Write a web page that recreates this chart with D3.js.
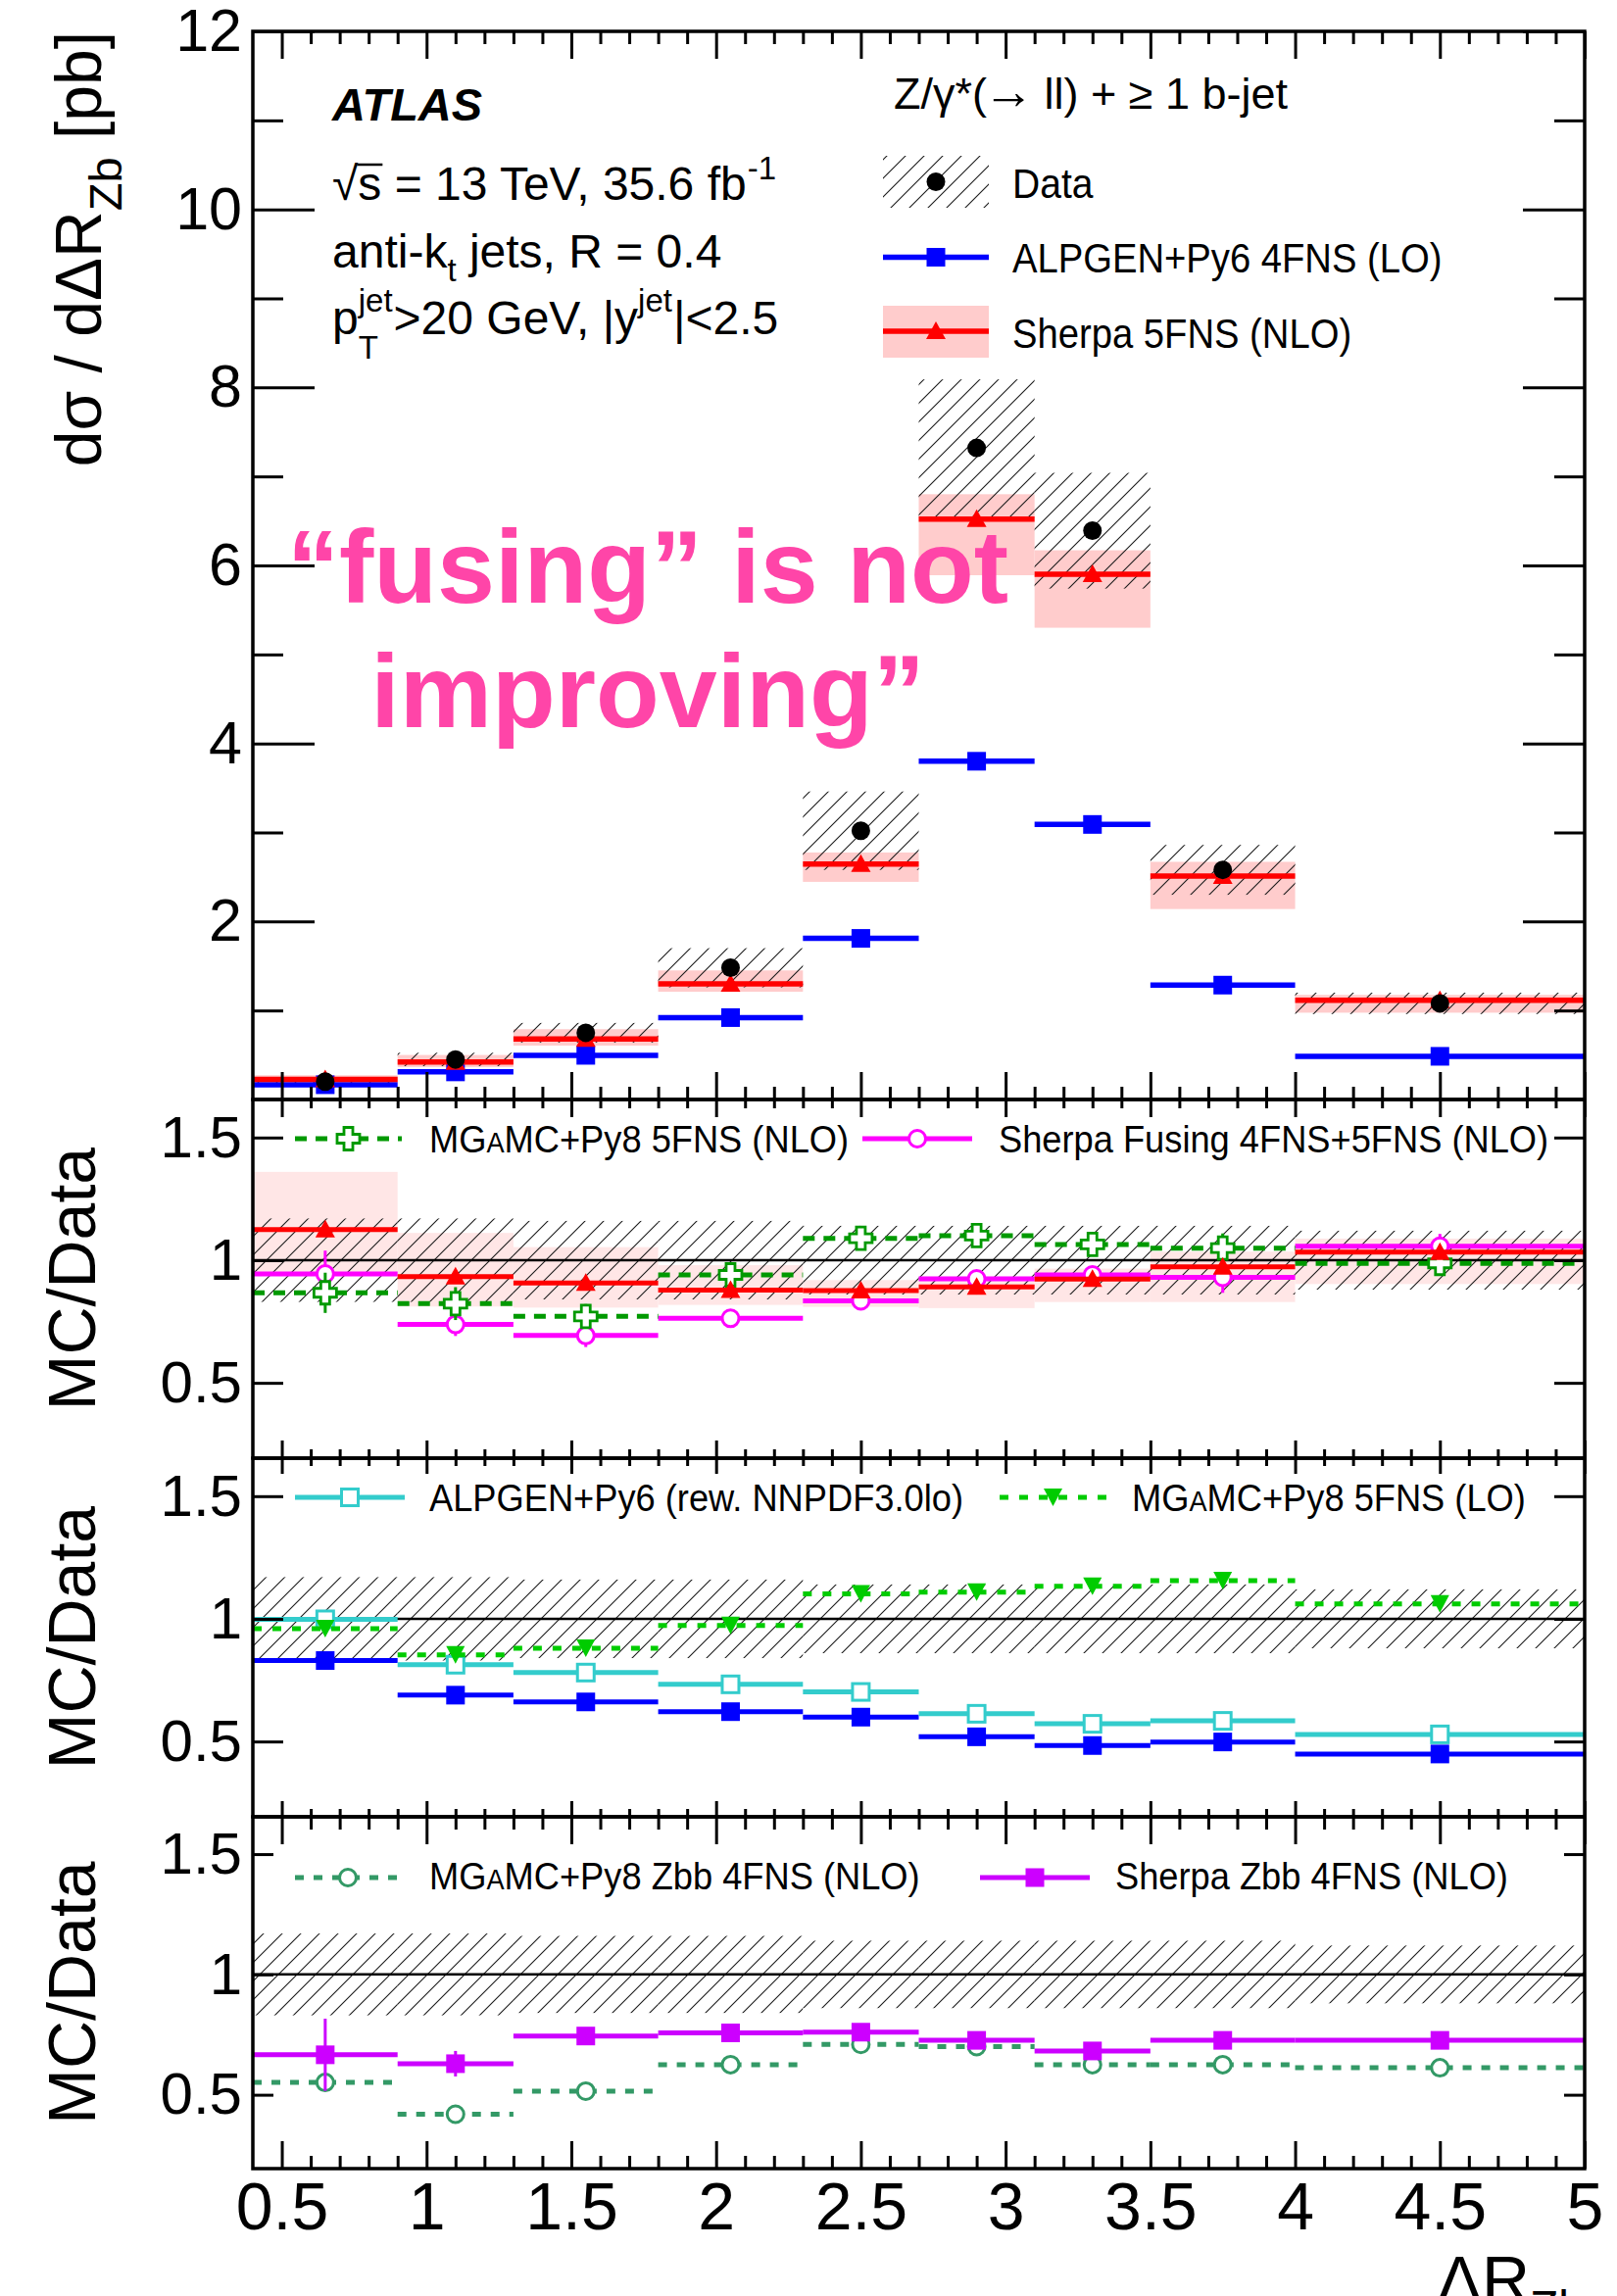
<!DOCTYPE html>
<html>
<head>
<meta charset="utf-8">
<script src="https://cdn.jsdelivr.net/npm/d3@7"></script>
<style>
  html, body { margin: 0; padding: 0; background: #fff; }
  svg { display: block; }
</style>
</head>
<body>
<svg id="chart" width="1650" height="2343"></svg>
<script>
// ΔR_Zb binning
const binEdges   = [0.4, 0.9, 1.3, 1.8, 2.3, 2.7, 3.1, 3.5, 4.0, 5.0];
const binCenters = [0.65, 1.1, 1.55, 2.05, 2.5, 2.9, 3.3, 3.75, 4.5];

// Differential cross section [pb]
const dataXsec     = [0.20, 0.45, 0.75, 1.48, 3.02, 7.32, 6.39, 2.58, 1.08];
const dataXsecErr  = [0.04, 0.075, 0.11, 0.22, 0.44, 0.77, 0.65, 0.28, 0.12];
const alpgen4FNS   = [0.166, 0.31, 0.496, 0.92, 1.81, 3.80, 3.09, 1.285, 0.485];
const sherpa5FNS   = [0.225, 0.42, 0.68, 1.30, 2.645, 6.52, 5.90, 2.51, 1.115];
const sherpa5FNSUp = [0.047, 0.08, 0.11, 0.15, 0.13, 0.28, 0.27, 0.16, 0.06];
const sherpa5FNSDn = [0.035, 0.055, 0.075, 0.09, 0.20, 0.63, 0.60, 0.37, 0.14];

// Relative data uncertainty drawn around 1 in the ratio panels
const ratioBandUp = [0.17, 0.17, 0.16, 0.16, 0.14, 0.14, 0.14, 0.14, 0.12];
const ratioBandDn = [0.17, 0.17, 0.16, 0.16, 0.14, 0.14, 0.14, 0.14, 0.12];

// MC / Data ratios
const mgamc5FNSNLO    = [0.867, 0.823, 0.771, 0.94, 1.089, 1.10, 1.064, 1.049, 0.987];
const mgamc5FNSNLOErr = [0.082, 0.067, 0.05, 0.04, 0.04, 0.04, 0.04, 0.06, 0.05];
const sherpaFusing    = [0.944, 0.738, 0.693, 0.763, 0.834, 0.924, 0.94, 0.93, 1.057];
const sherpaFusingErr = [0.095, 0.047, 0.047, 0.03, 0.03, 0.035, 0.035, 0.063, 0.05];
const alpgenRew       = [0.998, 0.813, 0.781, 0.733, 0.702, 0.613, 0.572, 0.584, 0.529];
const mgamc5FNSLO     = [0.96, 0.853, 0.88, 0.973, 1.102, 1.109, 1.133, 1.156, 1.061];
const mgamcZbb        = [0.551, 0.419, 0.515, 0.625, 0.709, 0.70, 0.625, 0.625, 0.612];
const sherpaZbb       = [0.666, 0.629, 0.744, 0.757, 0.76, 0.726, 0.682, 0.726, 0.726];
const sherpaZbbErr    = [0.15, 0.053, 0.03, 0.03, 0.03, 0.03, 0.03, 0.03, 0.03];

// Axis ticks
const xTickLabels = [0.5, 1, 1.5, 2, 2.5, 3, 3.5, 4, 4.5, 5];
const mainYTicks  = [2, 4, 6, 8, 10, 12];
const mainYMinor  = [1, 3, 5, 7, 9, 11];
const ratioYTicks = [0.5, 1, 1.5];

const FONT = "'Liberation Sans', Arial, Helvetica, sans-serif";
const bins = d3.range(binCenters.length);
const ratioOf = (mc) => mc.map((v, i) => v / dataXsec[i]);

const svg = d3.select("#chart");
const defs = svg.append("defs");

// 45-degree hatching for the data uncertainty
const hatch = defs.append("pattern")
  .attr("id", "hatch").attr("patternUnits", "userSpaceOnUse")
  .attr("width", 19).attr("height", 19);
hatch.append("path")
  .attr("d", "M-2,2 L2,-2 M0,19 L19,0 M17,21 L21,17")
  .attr("stroke", "#1a1a1a").attr("stroke-width", 1.1).attr("fill", "none");

// Geometry
const xL = 258, xR = 1617;
const x = d3.scaleLinear().domain([0.4, 5.0]).range([xL, xR]);
const mainTop = 32, mainBottom = 1122;
const yMain = d3.scaleLinear().domain([0, 12]).range([mainBottom, mainTop]);

const ratioPanels = [
  { top: 1122, bottom: 1488, yTick: 31, xMajor: 18, xMinor: 9 },
  { top: 1488, bottom: 1854, yTick: 31, xMajor: 16, xMinor: 8 },
  { top: 1854, bottom: 2213, yTick: 21, xMajor: 28, xMinor: 13 }
];
ratioPanels.forEach(p => {
  p.y = d3.scaleLinear().domain([0.193, 1.655]).range([p.bottom, p.top]);
});

function clip(id, top, bottom) {
  defs.append("clipPath").attr("id", id)
    .append("rect").attr("x", xL).attr("y", top).attr("width", xR - xL).attr("height", bottom - top);
}
clip("clip-main", mainTop, mainBottom);
ratioPanels.forEach((p, k) => clip("clip-r" + k, p.top, p.bottom));

// Marker shapes
function drawMarker(g, type, cx, cy, color) {
  switch (type) {
    case "dot":
      g.append("circle").attr("cx", cx).attr("cy", cy).attr("r", 9.5).attr("fill", "#000");
      break;
    case "square":
      g.append("rect").attr("x", cx - 9.5).attr("y", cy - 9.5).attr("width", 19).attr("height", 19).attr("fill", color);
      break;
    case "openSquare":
      g.append("rect").attr("x", cx - 8.5).attr("y", cy - 8.5).attr("width", 17).attr("height", 17)
        .attr("fill", "#fff").attr("stroke", color).attr("stroke-width", 3);
      break;
    case "triUp":
      g.append("path").attr("d", `M${cx},${cy - 10}L${cx + 10},${cy + 8}L${cx - 10},${cy + 8}Z`).attr("fill", color);
      break;
    case "triDown":
      g.append("path").attr("d", `M${cx - 9.5},${cy - 9}L${cx + 9.5},${cy - 9}L${cx},${cy + 9}Z`).attr("fill", color);
      break;
    case "openCircle":
      g.append("circle").attr("cx", cx).attr("cy", cy).attr("r", 8.5)
        .attr("fill", "#fff").attr("stroke", color).attr("stroke-width", 3);
      break;
    case "openCross": {
      const a = 4.5, h = 11.5;
      const pts = [[-a,-h],[a,-h],[a,-a],[h,-a],[h,a],[a,a],[a,h],[-a,h],[-a,a],[-h,a],[-h,-a],[-a,-a]];
      g.append("path").attr("d", "M" + pts.map(p => `${cx + p[0]},${cy + p[1]}`).join("L") + "Z")
        .attr("fill", "#fff").attr("stroke", color).attr("stroke-width", 2.8);
      break;
    }
  }
}

// Histogram-style series: a flat segment per bin, optional vertical error, marker at the bin centre
function drawSeries(g, yScale, s) {
  const sg = g.append("g");
  sg.selectAll("line.h").data(bins).join("line")
    .attr("x1", i => x(binEdges[i])).attr("x2", i => x(binEdges[i + 1]))
    .attr("y1", i => yScale(s.values[i])).attr("y2", i => yScale(s.values[i]))
    .attr("stroke", s.color).attr("stroke-width", s.width || 5)
    .attr("stroke-dasharray", s.dash || null);
  if (s.err) {
    sg.selectAll("line.v").data(bins).join("line")
      .attr("x1", i => x(binCenters[i])).attr("x2", i => x(binCenters[i]))
      .attr("y1", i => yScale(s.values[i] - s.err[i])).attr("y2", i => yScale(s.values[i] + s.err[i]))
      .attr("stroke", s.color).attr("stroke-width", 3);
  }
  bins.forEach(i => drawMarker(sg, s.marker, x(binCenters[i]), yScale(s.values[i]), s.color));
}

function bandRects(g, yScale, lo, hi, fill) {
  g.append("g").selectAll("rect").data(bins).join("rect")
    .attr("x", i => x(binEdges[i]))
    .attr("width", i => x(binEdges[i + 1]) - x(binEdges[i]))
    .attr("y", i => yScale(hi[i]))
    .attr("height", i => yScale(lo[i]) - yScale(hi[i]))
    .attr("fill", fill);
}

// ---------------- main panel ----------------
const gMain = svg.append("g").attr("clip-path", "url(#clip-main)");
bandRects(gMain, yMain,
  sherpa5FNS.map((v, i) => v - sherpa5FNSDn[i]),
  sherpa5FNS.map((v, i) => v + sherpa5FNSUp[i]), "#ffcccc");
bandRects(gMain, yMain,
  dataXsec.map((v, i) => v - dataXsecErr[i]),
  dataXsec.map((v, i) => v + dataXsecErr[i]), "url(#hatch)");
drawSeries(gMain, yMain, { values: alpgen4FNS, color: "#0000ff", marker: "square", width: 5.5 });
drawSeries(gMain, yMain, { values: sherpa5FNS, color: "#ff0000", marker: "triUp", width: 5.5 });
bins.forEach(i => drawMarker(gMain, "dot", x(binCenters[i]), yMain(dataXsec[i])));

// ---------------- ratio panels ----------------
const ratioSeries = [
  [
    { values: sherpaFusing, err: sherpaFusingErr, color: "#ff00ff", marker: "openCircle" },
    { values: mgamc5FNSNLO, err: mgamc5FNSNLOErr, color: "#009900", marker: "openCross", dash: "12,9" },
    { values: ratioOf(sherpa5FNS), color: "#ff0000", marker: "triUp" }
  ],
  [
    { values: ratioOf(alpgen4FNS), color: "#0000ff", marker: "square" },
    { values: alpgenRew, color: "#33cccc", marker: "openSquare" },
    { values: mgamc5FNSLO, color: "#00cc00", marker: "triDown", dash: "9,11" }
  ],
  [
    { values: mgamcZbb, color: "#339966", marker: "openCircle", dash: "9,10" },
    { values: sherpaZbb, err: sherpaZbbErr, color: "#cc00ff", marker: "square" }
  ]
];

ratioPanels.forEach((p, k) => {
  const g = svg.append("g").attr("clip-path", `url(#clip-r${k})`);
  if (k === 0) {
    bandRects(g, p.y,
      sherpa5FNS.map((v, i) => (v - sherpa5FNSDn[i]) / dataXsec[i]),
      sherpa5FNS.map((v, i) => (v + sherpa5FNSUp[i]) / dataXsec[i]), "#ffe6e6");
  }
  bandRects(g, p.y, ratioBandDn.map(d => 1 - d), ratioBandUp.map(u => 1 + u), "url(#hatch)");
  g.append("line").attr("x1", xL).attr("x2", xR).attr("y1", p.y(1)).attr("y2", p.y(1))
    .attr("stroke", "#000").attr("stroke-width", 2.5);
  ratioSeries[k].forEach(s => drawSeries(g, p.y, s));
});

// ---------------- frames and ticks ----------------
const fmt = d3.format("~g");
function styleAxis(g, size) {
  g.attr("font-family", FONT).attr("font-size", size);
  g.select(".domain").remove();
  g.selectAll(".tick line").attr("stroke", "#000").attr("stroke-width", 3);
  g.selectAll(".tick text").attr("fill", "#000");
}
const xMinorTicks = d3.range(5, 50).map(i => i / 10).filter(v => Math.abs(v * 2 - Math.round(v * 2)) > 1e-6);

function frameTicks(top, bottom, yScale, yMaj, yMinorVals, yMajLen, yMinLen, xMajLen, xMinLen, yLabelSize, xLabels) {
  // y ticks, left and right
  svg.append("g").attr("transform", `translate(${xL},0)`)
    .call(d3.axisLeft(yScale).tickValues(yMaj).tickSize(-yMajLen).tickPadding(11).tickFormat(fmt))
    .call(styleAxis, yLabelSize);
  svg.append("g").attr("transform", `translate(${xR},0)`)
    .call(d3.axisRight(yScale).tickValues(yMaj).tickSize(-yMajLen).tickFormat(""))
    .call(styleAxis, 10);
  if (yMinorVals) {
    svg.append("g").attr("transform", `translate(${xL},0)`)
      .call(d3.axisLeft(yScale).tickValues(yMinorVals).tickSize(-yMinLen).tickFormat(""))
      .call(styleAxis, 10);
    svg.append("g").attr("transform", `translate(${xR},0)`)
      .call(d3.axisRight(yScale).tickValues(yMinorVals).tickSize(-yMinLen).tickFormat(""))
      .call(styleAxis, 10);
  }
  // x ticks, top and bottom
  svg.append("g").attr("transform", `translate(0,${top})`)
    .call(d3.axisTop(x).tickValues(xTickLabels).tickSize(-xMajLen).tickFormat(""))
    .call(styleAxis, 10);
  svg.append("g").attr("transform", `translate(0,${top})`)
    .call(d3.axisTop(x).tickValues(xMinorTicks).tickSize(-xMinLen).tickFormat(""))
    .call(styleAxis, 10);
  const bottomAxis = d3.axisBottom(x).tickValues(xTickLabels).tickSize(-xMajLen);
  if (xLabels) bottomAxis.tickPadding(14).tickFormat(fmt); else bottomAxis.tickFormat("");
  svg.append("g").attr("transform", `translate(0,${bottom})`)
    .call(bottomAxis).call(styleAxis, 68);
  svg.append("g").attr("transform", `translate(0,${bottom})`)
    .call(d3.axisBottom(x).tickValues(xMinorTicks).tickSize(-xMinLen).tickFormat(""))
    .call(styleAxis, 10);
  svg.append("rect").attr("x", xL).attr("y", top).attr("width", xR - xL).attr("height", bottom - top)
    .attr("fill", "none").attr("stroke", "#000").attr("stroke-width", 3.5);
}

frameTicks(mainTop, mainBottom, yMain, mainYTicks, mainYMinor, 63, 31, 28, 13, 61, false);
ratioPanels.forEach((p, k) =>
  frameTicks(p.top, p.bottom, p.y, ratioYTicks, null, p.yTick, 0, p.xMajor, p.xMinor, 60, k === 2));

// ---------------- axis titles ----------------
const yTitle = svg.append("text").attr("transform", `translate(103,${mainTop}) rotate(-90)`)
  .attr("text-anchor", "end").attr("font-family", FONT).attr("font-size", 66);
yTitle.append("tspan").text("dσ / dΔR");
yTitle.append("tspan").attr("font-size", 47).attr("dy", 21).text("Zb");
yTitle.append("tspan").attr("dy", -21).text("\u00a0[pb]");

ratioPanels.forEach(p => {
  svg.append("text").attr("transform", `translate(97,${(p.top + p.bottom) / 2}) rotate(-90)`)
    .attr("text-anchor", "middle").attr("font-family", FONT).attr("font-size", 68).text("MC/Data");
});

const xTitle = svg.append("text").attr("x", xR).attr("y", 2350)
  .attr("text-anchor", "end").attr("font-family", FONT).attr("font-size", 68);
xTitle.append("tspan").text("ΔR");
xTitle.append("tspan").attr("font-size", 48).attr("dy", 21).text("Zb");

// ---------------- labels in the main panel ----------------
const meas = svg.append("text").attr("font-family", FONT).attr("visibility", "hidden");
function textWidth(str, size) {
  meas.attr("font-size", size).text(str);
  return meas.node().getComputedTextLength();
}
function plain(xp, yp, size, str, extra) {
  const t = svg.append("text").attr("x", xp).attr("y", yp).attr("font-family", FONT).attr("font-size", size).text(str);
  if (extra) extra(t);
  return t;
}

const annX = 339, annSize = 48, scriptSize = 33;
plain(annX, 123, 47, "ATLAS", t => t.attr("font-weight", "bold").attr("font-style", "italic"));

// √s = 13 TeV, 35.6 fb^-1
const sLine = plain(annX, 204, annSize, "√s = 13 TeV, 35.6 fb");
{
  const node = sLine.node();
  const s0 = node.getStartPositionOfChar(1).x, s1 = node.getEndPositionOfChar(1).x;
  svg.append("line").attr("x1", s0 - 1).attr("x2", s1 + 1).attr("y1", 204 - 36).attr("y2", 204 - 36)
    .attr("stroke", "#000").attr("stroke-width", 2.5);
  const w = node.getComputedTextLength();
  plain(annX + w + 1, 204 - 21, scriptSize, "-1");
}

// anti-k_t jets, R = 0.4
{
  const w1 = textWidth("anti-k", annSize);
  plain(annX, 273, annSize, "anti-k");
  plain(annX + w1, 273 + 14, scriptSize, "t");
  plain(annX + w1 + textWidth("t", scriptSize), 273, annSize, "\u00a0jets, R = 0.4");
}

// p_T^jet > 20 GeV, |y^jet| < 2.5
{
  const yb = 341;
  let cx = annX;
  plain(cx, yb, annSize, "p");
  cx += textWidth("p", annSize);
  plain(cx, yb - 23, scriptSize, "jet");
  plain(cx, yb + 25, scriptSize, "T");
  cx += Math.max(textWidth("jet", scriptSize), textWidth("T", scriptSize)) + 1;
  const mid = ">20 GeV, |y";
  plain(cx, yb, annSize, mid);
  cx += textWidth(mid, annSize);
  plain(cx, yb - 23, scriptSize, "jet");
  cx += textWidth("jet", scriptSize) + 1;
  plain(cx, yb, annSize, "|<2.5");
}

// ---------------- legends ----------------
function legendLabel(xp, yp, size, sx, parts) {
  const t = svg.append("text").attr("transform", `translate(${xp},${yp}) scale(${sx},1)`)
    .attr("font-family", FONT).attr("font-size", size);
  parts.forEach(p => t.append("tspan").attr("font-size", p.small ? size * 0.75 : null).text(p.t));
}
function legendSample(x0, x1, yc, s) {
  const g = svg.append("g");
  g.append("line").attr("x1", x0).attr("x2", x1).attr("y1", yc).attr("y2", yc)
    .attr("stroke", s.color).attr("stroke-width", s.width || 5).attr("stroke-dasharray", s.dash || null);
  drawMarker(g, s.marker, (x0 + x1) / 2, yc, s.color);
}

// main legend header: Z/γ*(→ ll) + ≥ 1 b-jet
{
  const hdr = svg.append("text").attr("x", 912).attr("y", 111).attr("font-family", FONT).attr("font-size", 45);
  hdr.append("tspan").text("Z/γ*(");
  hdr.append("tspan").attr("font-size", 52).attr("dx", -4).text("→");
  hdr.append("tspan").attr("dx", -2).text("\u00a0ll) + ≥ 1 b-jet");
}
svg.append("rect").attr("x", 901).attr("y", 159).attr("width", 108).attr("height", 53).attr("fill", "url(#hatch)");
drawMarker(svg, "dot", 955, 185.5);
legendLabel(1033, 202, 42, 0.93, [{ t: "Data" }]);
legendSample(901, 1009, 262.5, { color: "#0000ff", marker: "square", width: 5.5 });
legendLabel(1033, 278, 42, 0.91, [{ t: "ALPGEN+Py6 4FNS (LO)" }]);
svg.append("rect").attr("x", 901).attr("y", 312).attr("width", 108).attr("height", 53).attr("fill", "#ffcccc");
legendSample(901, 1009, 338, { color: "#ff0000", marker: "triUp", width: 5.5 });
legendLabel(1033, 355, 42, 0.91, [{ t: "Sherpa 5FNS (NLO)" }]);

// ratio legends
const LS = 39, LX = 0.93;
legendSample(301, 410, 1162, ratioSeries[0][1]);
legendLabel(438, 1176, LS, LX, [{ t: "MG" }, { t: "A", small: true }, { t: "MC+Py8 5FNS (NLO)" }]);
legendSample(880, 992, 1162, ratioSeries[0][0]);
legendLabel(1019, 1176, LS, LX, [{ t: "Sherpa Fusing 4FNS+5FNS (NLO)" }]);

legendSample(301, 413, 1528, ratioSeries[1][1]);
legendLabel(438, 1542, LS, LX, [{ t: "ALPGEN+Py6 (rew. NNPDF3.0lo)" }]);
legendSample(1020, 1129, 1528, ratioSeries[1][2]);
legendLabel(1155, 1542, LS, LX, [{ t: "MG" }, { t: "A", small: true }, { t: "MC+Py8 5FNS (LO)" }]);

legendSample(301, 409, 1916, ratioSeries[2][0]);
legendLabel(438, 1928, LS, LX, [{ t: "MG" }, { t: "A", small: true }, { t: "MC+Py8 Zbb 4FNS (NLO)" }]);
legendSample(1000, 1112, 1916, ratioSeries[2][1]);
legendLabel(1138, 1928, LS, LX, [{ t: "Sherpa Zbb 4FNS (NLO)" }]);

// ---------------- remark ----------------
const remark = svg.append("text").attr("x", 661).attr("y", 615)
  .attr("text-anchor", "middle").attr("font-family", FONT).attr("font-weight", "bold")
  .attr("font-size", 106).attr("fill", "#ff45a8");
remark.append("tspan").attr("x", 661).text("“fusing” is not");
remark.append("tspan").attr("x", 661).attr("dy", 127).text("improving”");

meas.remove();
</script>
</body>
</html>
